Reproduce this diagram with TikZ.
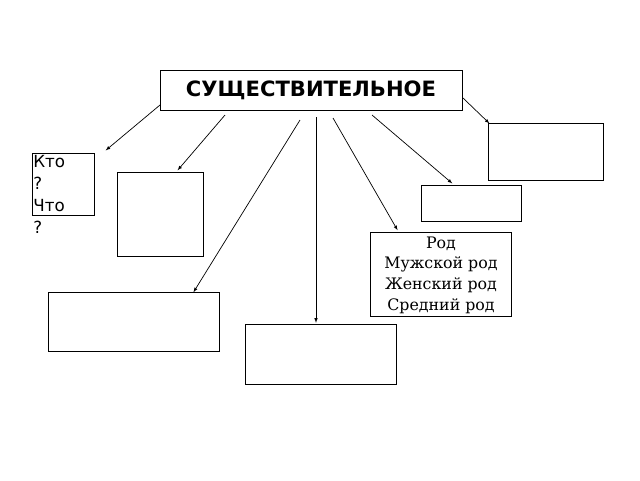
\documentclass[tikz,border=0pt]{standalone}
\usepackage{fontspec}
\setmainfont{DejaVu Serif}
\setsansfont{DejaVu Sans}
\usetikzlibrary{positioning}
\begin{document}
\begin{tikzpicture}[x=0.04cm,y=-0.04cm,
    thick,
    box/.style={draw,rectangle,inner sep=0pt},
    link/.style={->,>=latex,thick,shorten >=1pt}
  ]
  \useasboundingbox (0,0) rectangle (640,480);

  % the main box
  \node[box,minimum width=302*0.04cm,minimum height=40*0.04cm,
        font=\sffamily\bfseries\fontsize{24}{28}\selectfont] (noun) at (311,90) {СУЩЕСТВИТЕЛЬНОЕ};

  % the boxes below
  \node[box,minimum width=62*0.04cm,minimum height=62*0.04cm] (who) at (63,184) {};
  \node[anchor=north west,align=left,inner sep=0pt,
        font=\sffamily\fontsize{19}{25}\selectfont] (whotext) at (33,155) {Кто\\?\\Что\\?};
  \node[box,minimum width=86*0.04cm,minimum height=84*0.04cm] (b2) at (160,214) {};
  \node[box,minimum width=115*0.04cm,minimum height=57*0.04cm] (b3) at (546,152) {};
  \node[box,minimum width=100*0.04cm,minimum height=36*0.04cm] (b4) at (471,203) {};
  \node[box,minimum width=141*0.04cm,minimum height=84*0.04cm] (gender) at (441,274) {};
  \node[align=center,inner sep=0pt,font=\fontsize{18}{23.5}\selectfont] (gtext) at (441,275)
    {Род\\Мужской род\\Женский род\\Средний род};
  \node[box,minimum width=171*0.04cm,minimum height=59*0.04cm] (b6) at (134,322) {};
  \node[box,minimum width=151*0.04cm,minimum height=60*0.04cm] (b7) at (321,354) {};

  % the arrows
  \coordinate (s1) at (160,105);
  \coordinate (s2) at (225,115);
  \coordinate (s3) at (300,120);
  \coordinate (s4) at (316,117);
  \coordinate (s5) at (333,118);
  \coordinate (s6) at (372,115);
  \coordinate (s7) at (463,98);
  \draw[link] (s1) -- (105,151);
  \draw[link] (s2) -- (177,171);
  \draw[link] (s3) -- (193,293);
  \draw[link] (s4) -- (b7.north -| s4);
  \draw[link] (s5) -- (398,231);
  \draw[link] (s6) -- (453,184);
  \draw[link] (s7) -- (490,124);
\end{tikzpicture}
\end{document}
